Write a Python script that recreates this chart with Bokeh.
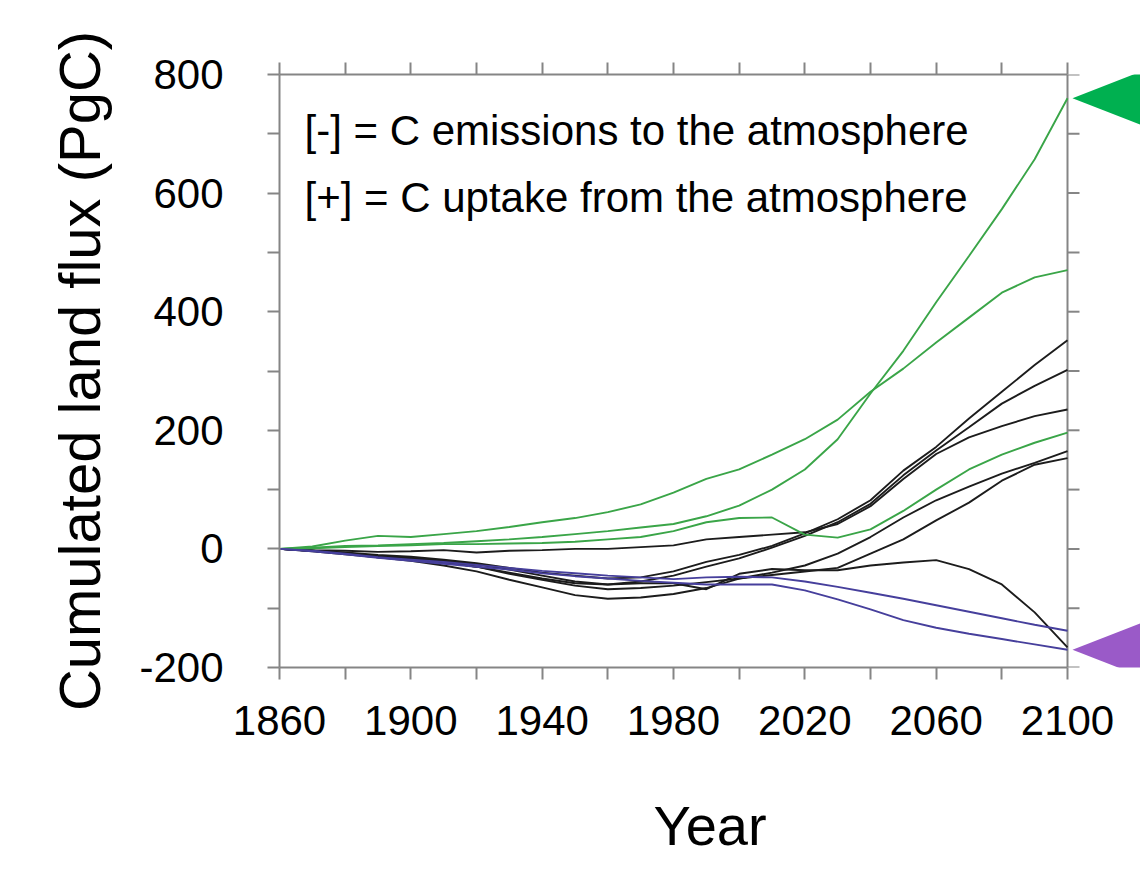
from bokeh.plotting import figure
from bokeh.models import Range1d, LinearAxis, FixedTicker, Label
from bokeh.embed import file_html
from bokeh.resources import INLINE

# ---------------- data (PgC) ----------------
years = [1860, 1870, 1880, 1890, 1900, 1910, 1920, 1930, 1940, 1950, 1960, 1970,
         1980, 1990, 2000, 2010, 2020, 2030, 2040, 2050, 2060, 2070, 2080, 2090, 2100]

green_steep = [0, 2, 5, 6, 8, 10, 13, 16, 20, 25, 30, 36,
               42, 55, 73, 100, 134, 185, 262, 334, 416, 494, 573, 657, 760]
green_upper = [0, 4, 14, 22, 20, 25, 30, 37, 45, 52, 62, 75,
               95, 118, 134, 159, 185, 218, 265, 304, 348, 390, 432, 458, 470]
green_plateau = [0, 1, 3, 5, 6, 8, 8, 9, 10, 12, 16, 20,
                 30, 45, 52, 53, 24, 19, 33, 64, 100, 134, 159, 179, 196]

black_a = [0, -3, -6, -10, -13, -18, -24, -32, -40, -45, -50, -48,
           -38, -22, -10, 5, 26, 50, 82, 132, 172, 220, 265, 310, 352]
black_b = [0, -3, -8, -14, -18, -22, -30, -40, -50, -58, -60, -55,
           -45, -30, -16, 2, 22, 45, 76, 124, 166, 205, 245, 275, 302]
black_c = [0, -2, -3, -5, -4, -2, -6, -3, -2, 0, 0, 3,
           6, 16, 20, 24, 28, 42, 72, 118, 160, 188, 207, 224, 235]
black_d = [0, -4, -9, -14, -20, -28, -38, -52, -65, -78, -84, -82,
           -76, -66, -50, -40, -28, -8, 20, 53, 82, 105, 127, 145, 165]
black_e = [0, -3, -7, -12, -16, -22, -30, -42, -52, -62, -68, -66,
           -62, -56, -50, -44, -38, -32, -8, 16, 48, 78, 115, 142, 153]
black_f = [0, -3, -8, -12, -15, -20, -26, -35, -45, -55, -60, -58,
           -58, -68, -42, -34, -36, -36, -28, -23, -19, -34, -60, -107, -166]

blue_a = [0, -3, -8, -14, -18, -22, -27, -32, -37, -41, -45, -48,
          -51, -48, -47, -48, -55, -64, -74, -84, -95, -106, -117, -128, -138]
blue_b = [0, -4, -9, -15, -20, -25, -30, -35, -41, -46, -50, -54,
          -57, -60, -60, -60, -70, -85, -102, -120, -133, -143, -152, -161, -170]

x_ticks = [1860, 1900, 1940, 1980, 2020, 2060, 2100]
x_minor = [1880, 1920, 1960, 2000, 2040, 2080]
y_ticks = [-200, 0, 200, 400, 600, 800]
y_tick_labels = ["-200", "0", "200", "400", "600", "800"]
y_minor = [-100, 100, 300, 500, 700]

note_1 = "[-] = C emissions to the atmosphere"
note_2 = "[+] = C uptake from the atmosphere"
y_title = "Cumulated land flux (PgC)"
x_title = "Year"

# ---------------- geometry ----------------
FONT = "Liberation Sans"
GREEN = "#3aa548"
BLACK = "#1c1c1c"
BLUE = "#463f9c"
AXIS = "#858585"

W, H = 1140, 875
LEFT, TOP, BOTTOM = 279, 74, 208
X0, X1 = x_ticks[0], x_ticks[-1]
Y0, Y1 = y_ticks[0], y_ticks[-1]
PLOT_W = 788                      # pixels between 1860 and 2100
px_per_year = PLOT_W / (X1 - X0)
px_per_unit = (H - TOP - BOTTOM) / (Y1 - Y0)
# frame extends to the right edge so that the arrow heads can be drawn
x_end = X0 + (W - LEFT) / px_per_year

p = figure(width=W, height=H, output_backend="svg", toolbar_location=None,
           x_range=Range1d(X0, x_end), y_range=Range1d(Y0, Y1),
           min_border_left=LEFT, min_border_right=0, min_border_top=TOP,
           min_border_bottom=BOTTOM)
p.outline_line_color = None
p.grid.visible = False
p.background_fill_color = "white"
p.border_fill_color = "white"


def style(ax):
    ax.axis_line_color = AXIS
    ax.axis_line_width = 2
    ax.major_tick_line_color = AXIS
    ax.minor_tick_line_color = AXIS
    ax.major_tick_line_width = 2
    ax.minor_tick_line_width = 2
    ax.major_tick_in = 0
    ax.major_tick_out = 12
    ax.minor_tick_in = 0
    ax.minor_tick_out = 12
    ax.major_label_text_font = FONT
    ax.major_label_text_color = "black"
    ax.major_label_text_font_size = "42px"
    ax.axis_label_text_font = FONT
    ax.axis_label_text_font_style = "normal"
    ax.axis_label_text_color = "black"


xa = p.xaxis[0]
ya = p.yaxis[0]
style(xa)
style(ya)
xa.ticker = FixedTicker(ticks=x_ticks, minor_ticks=x_minor)
xa.bounds = (X0, X1)
ya.ticker = FixedTicker(ticks=y_ticks, minor_ticks=y_minor)
ya.major_label_overrides = {t: s for t, s in zip(y_ticks, y_tick_labels)}
xa.major_label_standoff = 26
ya.major_label_standoff = 44
xa.axis_label = x_title
xa.axis_label_text_font_size = "56px"
xa.axis_label_standoff = 56
ya.axis_label = y_title
ya.axis_label_text_font_size = "58px"
ya.axis_label_standoff = 24

# top axis: ticks only (all drawn as minor ticks, so no labels)
top_ax = LinearAxis(ticker=FixedTicker(ticks=[], minor_ticks=sorted(x_ticks + x_minor)))
style(top_ax)
top_ax.bounds = (X0, X1)
p.add_layout(top_ax, "above")

# right-hand frame edge at 2100 with outward ticks
all_y = sorted(y_ticks + y_minor)
tick_len = 12 / px_per_year
p.segment(x0=[X1], y0=[Y0], x1=[X1], y1=[Y1], line_color=AXIS, line_width=2)
p.segment(x0=[X1] * len(all_y), y0=all_y, x1=[X1 + tick_len] * len(all_y), y1=all_y,
          line_color=AXIS, line_width=2)

# ---------------- lines ----------------
for s in [black_a, black_b, black_c, black_d, black_e, black_f]:
    p.line(years, s, line_color=BLACK, line_width=1.9)
for s in [green_steep, green_upper, green_plateau]:
    p.line(years, s, line_color=GREEN, line_width=1.9)
for s in [blue_a, blue_b]:
    p.line(years, s, line_color=BLUE, line_width=1.9)

# ---------------- arrow heads pointing at the extreme 2100 values ----------------
series = [green_steep, green_upper, green_plateau, black_a, black_b, black_c,
          black_d, black_e, black_f, blue_a, blue_b]
top_end = max(s[-1] for s in series)
low_end = min(s[-1] for s in series)
tip_x = X1 + 5 / px_per_year
base_x = x_end + 10
half = (base_x - tip_x) * px_per_year * 0.39 / px_per_unit
p.patch([tip_x, base_x, base_x], [top_end, top_end + half, top_end - half],
        fill_color="#00b050", line_color=None)
p.patch([tip_x, base_x, base_x], [low_end, low_end + half, low_end - half],
        fill_color="#9a5ac8", line_color=None)

# ---------------- notes ----------------
note_x = X0 + 25 / px_per_year
for txt, yy in [(note_1, 706), (note_2, 593)]:
    p.add_layout(Label(x=note_x, y=yy, text=txt, text_font=FONT, text_font_size="42px",
                       text_color="black", text_align="left", text_baseline="alphabetic"))

open("out.html", "w").write(file_html(p, INLINE))
